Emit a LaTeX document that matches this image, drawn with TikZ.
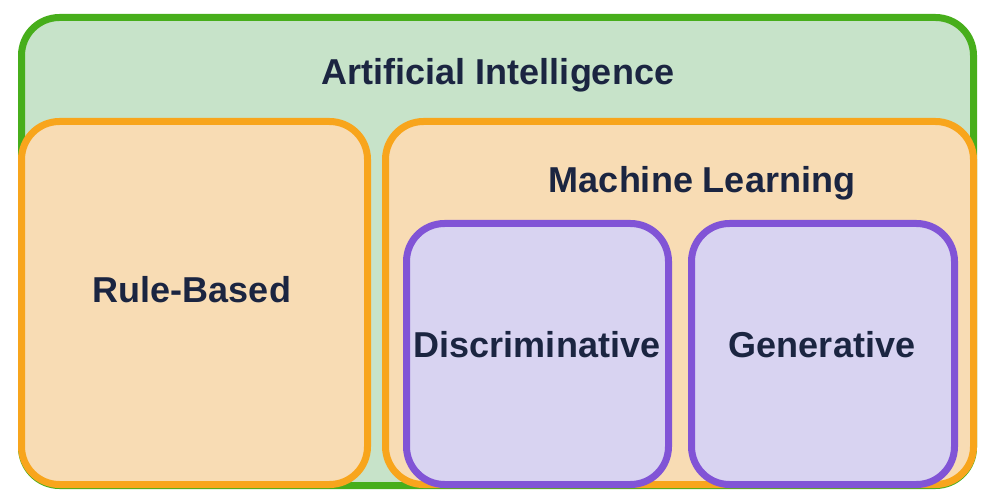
\documentclass[tikz,border=0pt]{standalone}
\usepackage{fontspec}
\setmainfont{Liberation Sans}
\usepackage{tikz}
\usetikzlibrary{backgrounds}

\definecolor{ailine}{HTML}{47AE1B}
\definecolor{aifill}{HTML}{C7E3C9}
\definecolor{mlline}{HTML}{F8A51C}
\definecolor{mlfill}{HTML}{F8DCB4}
\definecolor{genline}{HTML}{8154D6}
\definecolor{genfill}{HTML}{D8D3F1}
\definecolor{texto}{HTML}{1B2541}

\tikzset{
  caja/.style={rectangle, rounded corners=38pt, line width=7pt, inner sep=0pt},
  etiqueta/.style={anchor=base, text=texto, font=\fontsize{36}{40}\selectfont\bfseries, inner sep=0pt}
}

\begin{document}
\begin{tikzpicture}[x=1pt,y=-1pt]
   \useasboundingbox (0,0) rectangle (995,502);

   \draw (497.5,251.5) node[caja, draw=ailine, fill=aifill, minimum width=952pt, minimum height=468pt] (ia) {};
     \draw (498,85) node[etiqueta] (ialabel) {Artificial Intelligence};

   \draw (194.5,303) node[caja, draw=mlline, fill=mlfill, minimum width=346pt, minimum height=363pt] (reglas) {};
     \draw (192,302) node[etiqueta] (reglaslabel) {Rule-Based};

   \draw (679.5,303) node[caja, draw=mlline, fill=mlfill, minimum width=588pt, minimum height=363pt] (aa) {};
     \draw (702,193) node[etiqueta] (aalabel) {Machine Learning};

   \draw (537.5,354) node[caja, draw=genline, fill=genfill, minimum width=262pt, minimum height=261pt] (discr) {};
     \draw (537,357) node[etiqueta] (discrlabel) {Discriminative};

   \draw (823,354) node[caja, draw=genline, fill=genfill, minimum width=263pt, minimum height=261pt] (gen) {};
     \draw (822,357) node[etiqueta] (genlabel) {Generative};

\end{tikzpicture}
\end{document}
